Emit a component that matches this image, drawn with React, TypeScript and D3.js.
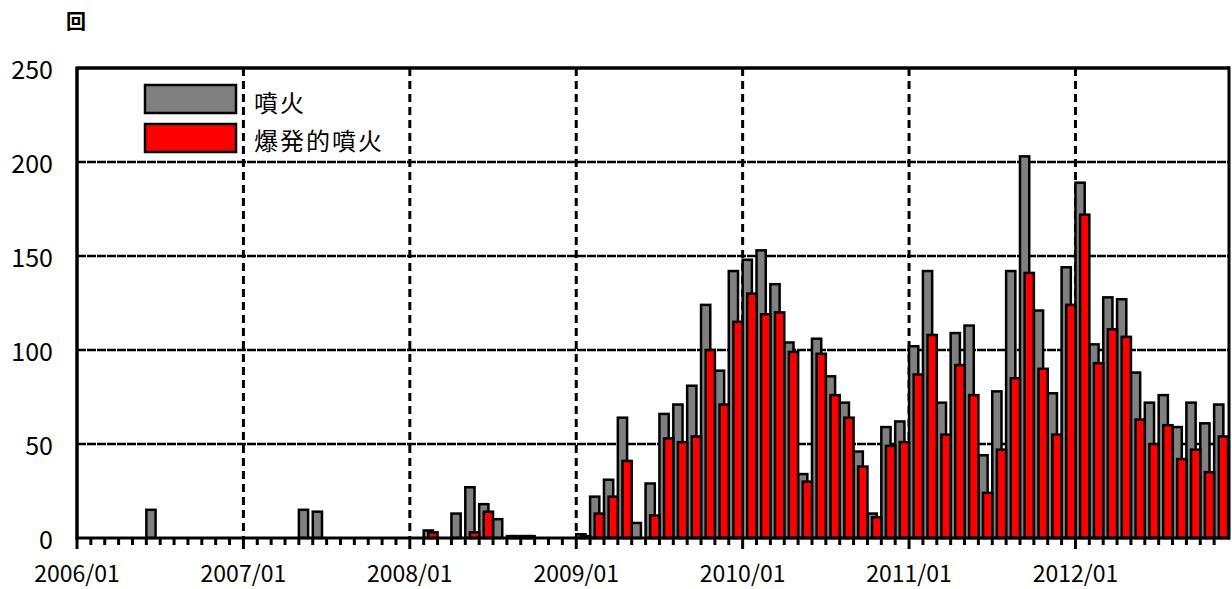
import React, { useEffect } from 'react';
import * as d3 from 'd3';

// 月別の噴火回数（2006/01〜2012/11）
const years = [2006, 2007, 2008, 2009, 2010, 2011, 2012];
const months = years
  .flatMap((y) => d3.range(1, 13).map((m) => `${y}/${String(m).padStart(2, '0')}`))
  .slice(0, 83);

// 噴火（灰色）
const eruptions = [
  0, 0, 0, 0, 0, 15, 0, 0, 0, 0, 0, 0,
  0, 0, 0, 0, 15, 14, 0, 0, 0, 0, 0, 0,
  0, 4, 0, 13, 27, 18, 10, 1, 1, 0, 0, 0,
  2, 22, 31, 64, 8, 29, 66, 71, 81, 124, 89, 142,
  148, 153, 135, 104, 34, 106, 86, 72, 46, 13, 59, 62,
  102, 142, 72, 109, 113, 44, 78, 142, 203, 121, 77, 144,
  189, 103, 128, 127, 88, 72, 76, 59, 72, 61, 71,
];

// 爆発的噴火（赤）
const explosive = [
  0, 0, 0, 0, 0, 0, 0, 0, 0, 0, 0, 0,
  0, 0, 0, 0, 0, 0, 0, 0, 0, 0, 0, 0,
  0, 3, 0, 0, 3, 14, 0, 1, 1, 0, 0, 0,
  1, 13, 22, 41, 0, 12, 53, 51, 54, 100, 71, 115,
  130, 119, 120, 99, 30, 98, 76, 64, 38, 11, 49, 51,
  87, 108, 55, 92, 76, 24, 47, 85, 141, 90, 55, 124,
  172, 93, 111, 107, 63, 50, 60, 42, 47, 35, 54,
];

const yTicks = [0, 50, 100, 150, 200, 250];
const xLabels = ['2006/01', '2007/01', '2008/01', '2009/01', '2010/01', '2011/01', '2012/01'];

const W = 1232, H = 589;
const left = 77, right = 1228, top = 68, bottom = 538;
const font = '"Noto Sans CJK JP", sans-serif';

export default function App() {
  useEffect(() => {
    document.body.style.margin = '0';
  }, []);

  const x = d3.scaleBand<string>().domain(months).range([left, right]).paddingInner(0).paddingOuter(0);
  const y = d3.scaleLinear().domain([0, 250]).range([bottom, top]);
  const slot = x.bandwidth();
  const bw = slot / 1.5; // 重なり 50%

  return (
    <svg width={W} height={H} style={{ display: 'block', background: '#fff' }}>
      {/* 横グリッド */}
      {yTicks.filter((t) => t > 0 && t < 250).map((t) => (
        <line key={t} x1={left} x2={right} y1={y(t)} y2={y(t)} stroke="#000" strokeWidth={2.5} strokeDasharray="9 1" />
      ))}
      {/* 年の区切り（破線） */}
      {xLabels.slice(1).map((l) => (
        <line key={l} x1={x(l)!} x2={x(l)!} y1={top} y2={bottom} stroke="#000" strokeWidth={3} strokeDasharray="8 5" />
      ))}

      {/* 噴火 */}
      {months.map((m, i) => eruptions[i] > 0 && (
        <rect key={'g' + m} x={x(m)!} y={y(eruptions[i])} width={bw} height={bottom - y(eruptions[i])}
          fill="#808080" stroke="#000" strokeWidth={2.5} />
      ))}
      {/* 爆発的噴火 */}
      {months.map((m, i) => explosive[i] > 0 && (
        <rect key={'r' + m} x={x(m)! + bw / 2} y={y(explosive[i])} width={bw} height={bottom - y(explosive[i])}
          fill="#ff0000" stroke="#000" strokeWidth={2.5} />
      ))}

      {/* 枠 */}
      <line x1={left} x2={left} y1={top - 1.5} y2={bottom + 1.5} stroke="#000" strokeWidth={3.5} />
      <line x1={right + 1} x2={right + 1} y1={top - 1.5} y2={bottom + 1.5} stroke="#000" strokeWidth={3} />
      <line x1={left} x2={right + 2} y1={top} y2={top} stroke="#000" strokeWidth={3.5} />
      <line x1={left} x2={right + 2} y1={bottom} y2={bottom} stroke="#000" strokeWidth={3} />

      {/* 月目盛り */}
      {months.map((m, i) => (
        <line key={'t' + m} x1={x(m)!} x2={x(m)!} y1={bottom} y2={bottom + (i % 12 === 0 ? 11 : 7)}
          stroke="#000" strokeWidth={3} />
      ))}

      {/* Y軸ラベル */}
      {yTicks.map((t) => (
        <text key={t} x={53} y={y(t)} textAnchor="end" dominantBaseline="central"
          fontFamily={font} fontSize={25} fill="#000">{t}</text>
      ))}
      {/* X軸ラベル */}
      {xLabels.map((l) => (
        <text key={l} x={x(l)!} y={572} textAnchor="middle" dominantBaseline="central"
          fontFamily={font} fontSize={23} fill="#000">{l}</text>
      ))}
      <text x={76} y={20} textAnchor="middle" dominantBaseline="central" fontFamily={font} fontSize={20} fontWeight="bold">回</text>

      {/* 凡例 */}
      <rect x={145} y={85} width={91} height={28} fill="#808080" stroke="#000" strokeWidth={2.5} />
      <rect x={145} y={124} width={91} height={28} fill="#ff0000" stroke="#000" strokeWidth={2.5} />
      <text x={254} y={101} dominantBaseline="central" fontFamily={font} fontSize={24} letterSpacing={2}>噴火</text>
      <text x={254} y={139} dominantBaseline="central" fontFamily={font} fontSize={24} letterSpacing={2}>爆発的噴火</text>
    </svg>
  );
}
